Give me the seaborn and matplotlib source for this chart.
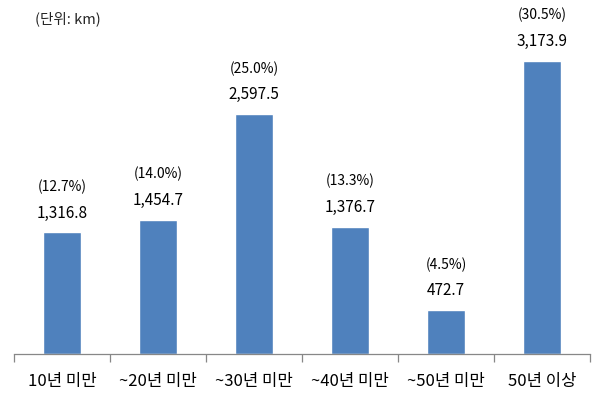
import numpy as np
import pandas as pd
import seaborn as sns
import matplotlib.pyplot as plt

# --- data ---
categories = ['10년 미만', '~20년 미만', '~30년 미만', '~40년 미만', '~50년 미만', '50년 이상']
lengths = [1316.8, 1454.7, 2597.5, 1376.7, 472.7, 3173.9]
shares = [12.7, 14.0, 25.0, 13.3, 4.5, 30.5]

df = pd.DataFrame({'구분': categories, '연장': lengths, '비율': shares})

sns.set_theme(style='white')
plt.rcParams['font.family'] = ['Noto Sans CJK KR', 'DejaVu Sans']

fig = plt.figure(figsize=(6.06, 4.07), dpi=100)
ax = fig.add_axes([0.0231, 0.1302, 0.9505, 0.839])

sns.barplot(data=df, x='구분', y='연장', color='#4F81BD', saturation=1,
            width=0.4, ax=ax)

ax.set_ylim(0, 3700)
ax.set_xlim(-0.5, len(categories) - 0.5)
ax.set_xlabel('')
ax.set_ylabel('')
ax.set_yticks([])
for side in ['top', 'right', 'left']:
    ax.spines[side].set_visible(False)
ax.spines['bottom'].set_color('#878787')
ax.spines['bottom'].set_linewidth(0.9)

# tick marks between categories, labels at centres
ax.set_xticks(np.arange(-0.5, len(categories)), minor=True)
ax.tick_params(axis='x', which='minor', length=6, color='#878787', width=0.9,
               direction='out', bottom=True)
ax.tick_params(axis='x', which='major', length=0, pad=14, labelsize=12,
               labelcolor='#000000')

for i, (v, s) in enumerate(zip(lengths, shares)):
    ax.annotate(f'{v:,.1f}', (i, v), xytext=(0, 14), textcoords='offset points',
                ha='center', va='center', fontsize=11, color='#000000')
    ax.annotate(f'({s:.1f}%)', (i, v), xytext=(0, 33), textcoords='offset points',
                ha='center', va='center', fontsize=10, color='#000000')

fig.text(0.058, 0.955, '(단위: km)', ha='left', va='center', fontsize=10.5)

fig.savefig('out.png', dpi=100)
